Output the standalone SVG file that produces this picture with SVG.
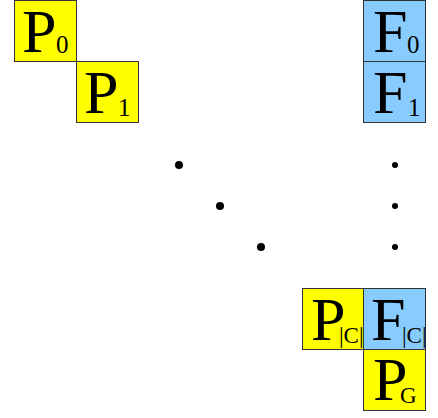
<svg xmlns="http://www.w3.org/2000/svg" width="438" height="418" viewBox="0 0 438 418">
<style>
.p{fill:#ffff00;stroke:#333;stroke-width:1}
.f{fill:#88ccff;stroke:#333;stroke-width:1}
.big{font-family:"Liberation Serif",serif;font-size:62px;fill:#000}
.sub{font-size:25px}
.subc{font-size:23px}
</style>
<rect width="438" height="418" fill="#fff"/>
<g id="P0"><rect class="p" x="14.5" y="0.5" width="62" height="61"/><text class="big" x="22" y="52">P<tspan class="sub" x="56" y="53">0</tspan></text></g>
<g id="P1"><rect class="p" x="76.5" y="61.5" width="62" height="61"/><text class="big" x="84" y="113">P<tspan class="sub" x="118" y="116">1</tspan></text></g>
<g id="F0"><rect class="f" x="363.5" y="0.5" width="62" height="61"/><text class="big" x="373" y="52">F<tspan class="sub" x="407" y="53">0</tspan></text></g>
<g id="F1"><rect class="f" x="363.5" y="61.5" width="62" height="61"/><text class="big" x="373" y="113">F<tspan class="sub" x="408" y="116">1</tspan></text></g>
<g id="PC"><rect class="p" x="302.5" y="288.5" width="62" height="61"/><text class="big" x="311" y="340">P<tspan class="subc" x="339" y="343">|C|</tspan></text></g>
<g id="FC"><rect class="f" x="363.5" y="288.5" width="62" height="61"/><text class="big" x="371" y="340">F<tspan class="subc" x="402" y="343">|C|</tspan></text></g>
<g id="PG"><rect class="p" x="363.5" y="349.5" width="62" height="61"/><text class="big" x="373" y="400">P<tspan class="subc" x="400" y="403">G</tspan></text></g>
<g id="dots">
<circle cx="179" cy="165" r="4"/><circle cx="220" cy="206" r="4"/><circle cx="261" cy="247" r="4"/>
<circle cx="395" cy="165" r="3"/><circle cx="395" cy="206" r="3"/><circle cx="395" cy="247" r="3"/>
</g>
</svg>
